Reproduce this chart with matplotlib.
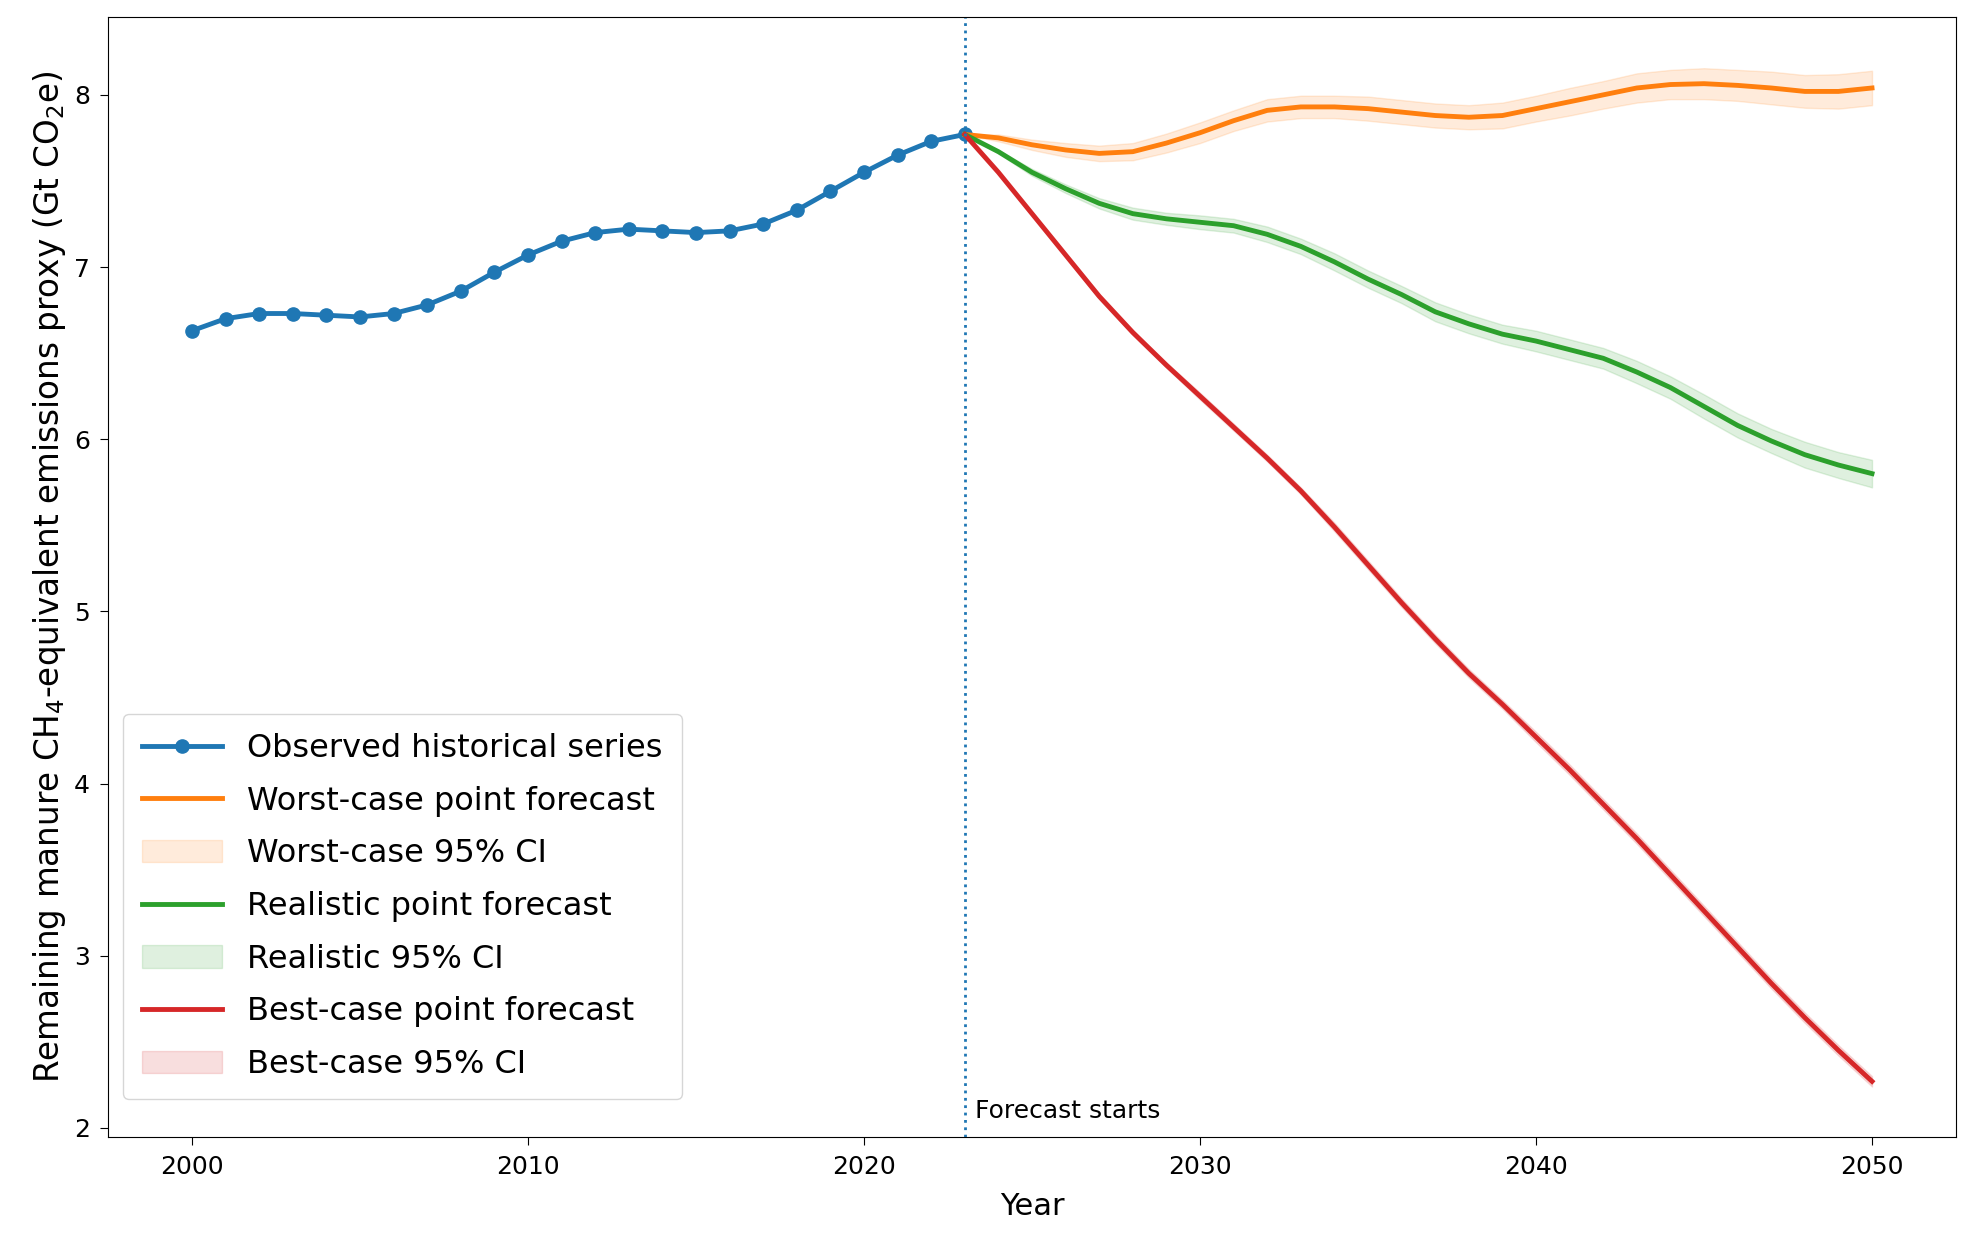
import numpy as np
import matplotlib.pyplot as plt

# historical series
hist_years = list(range(2000, 2024))
hist_vals = [6.63, 6.70, 6.73, 6.73, 6.72, 6.71, 6.73, 6.78, 6.86, 6.97, 7.07, 7.15,
             7.20, 7.22, 7.21, 7.20, 7.21, 7.25, 7.33, 7.44, 7.55, 7.65, 7.73, 7.77]

# forecasts 2023..2050
fc_years = list(range(2023, 2051))
worst = [7.77, 7.75, 7.71, 7.68, 7.66, 7.67, 7.72, 7.78, 7.85, 7.91, 7.93, 7.93, 7.92, 7.90,
         7.88, 7.87, 7.88, 7.92, 7.96, 8.00, 8.04, 8.06, 8.065, 8.055, 8.04, 8.02, 8.02, 8.04]
worst_hw = [0.0, 0.02, 0.03, 0.04, 0.045, 0.05, 0.055, 0.06, 0.06, 0.065, 0.065, 0.065, 0.07, 0.07,
            0.07, 0.07, 0.075, 0.075, 0.08, 0.08, 0.085, 0.085, 0.09, 0.09, 0.095, 0.095, 0.10, 0.10]
realistic = [7.77, 7.67, 7.55, 7.455, 7.37, 7.31, 7.28, 7.26, 7.24, 7.19, 7.12, 7.03, 6.93, 6.84,
             6.74, 6.67, 6.61, 6.57, 6.52, 6.47, 6.39, 6.30, 6.19, 6.08, 5.99, 5.91, 5.85, 5.80]
realistic_hw = [0.0, 0.01, 0.02, 0.025, 0.03, 0.035, 0.035, 0.04, 0.04, 0.045, 0.045, 0.05, 0.05, 0.05,
                0.055, 0.055, 0.055, 0.06, 0.06, 0.06, 0.065, 0.065, 0.07, 0.07, 0.07, 0.075, 0.075, 0.08]
best = [7.77, 7.55, 7.31, 7.07, 6.83, 6.62, 6.43, 6.25, 6.07, 5.89, 5.70, 5.49, 5.27, 5.05,
        4.84, 4.64, 4.46, 4.27, 4.08, 3.88, 3.68, 3.47, 3.26, 3.05, 2.84, 2.64, 2.45, 2.27]
best_hw = [0.0, 0.005, 0.01, 0.01, 0.015, 0.015, 0.015, 0.02, 0.02, 0.02, 0.02, 0.025, 0.025, 0.025,
           0.025, 0.025, 0.025, 0.03, 0.03, 0.03, 0.03, 0.03, 0.03, 0.03, 0.03, 0.03, 0.03, 0.03]

fig = plt.figure(figsize=(19.85, 12.33), dpi=100)
ax = fig.add_axes([0.0544, 0.0775, 0.931, 0.9085])

ax.plot(hist_years, hist_vals, marker='o', markersize=9.5, lw=3.5, color='C0',
        label='Observed historical series')

fy = np.array(fc_years)
for vals, hw, col, name in [(worst, worst_hw, 'C1', 'Worst-case'),
                            (realistic, realistic_hw, 'C2', 'Realistic'),
                            (best, best_hw, 'C3', 'Best-case')]:
    v = np.array(vals)
    h = np.array(hw)
    ax.plot(fy, v, lw=3.5, color=col, label=name + ' point forecast')
    ax.fill_between(fy, v - h, v + h, color=col, alpha=0.15, label=name + ' 95% CI')

ax.axvline(2023, color='C0', ls=':', lw=2)
ax.text(2023.3, 2.03, 'Forecast starts', fontsize=18, va='bottom')

ax.set_xlabel('Year', fontsize=22, labelpad=9)
ax.set_ylabel('Remaining manure CH$_4$-equivalent emissions proxy (Gt CO$_2$e)', fontsize=23.5)
ax.tick_params(labelsize=18, length=6, pad=7)
ax.legend(loc='lower left', bbox_to_anchor=(0.008, 0.034), borderaxespad=0,
          fontsize=23, labelspacing=0.68, handlelength=2.5, borderpad=0.6)

plt.savefig('out.png', dpi=100)
